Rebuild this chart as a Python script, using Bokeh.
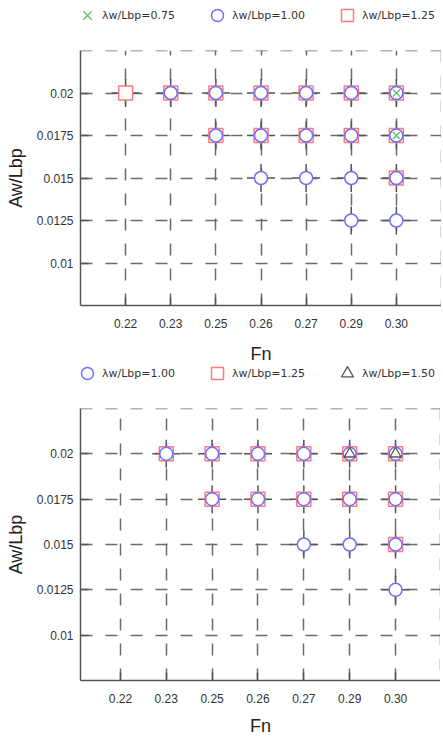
from bokeh.plotting import figure
from bokeh.models import Range1d, FixedTicker, Legend, LegendItem, Span
from bokeh.layouts import column
from bokeh.embed import file_html
from bokeh.resources import INLINE

# ---------------- data ----------------
fn_labels = ["0.22", "0.23", "0.25", "0.26", "0.27", "0.29", "0.30"]
aw_ticks = [0.01, 0.0125, 0.015, 0.0175, 0.02]
aw_labels = ["0.01", "0.0125", "0.015", "0.0175", "0.02"]
aw_range = (0.0075, 0.0225)

# top panel
top_075_fn = ["0.30", "0.30"]
top_075_aw = [0.02, 0.0175]
top_100_fn = ["0.23", "0.25", "0.26", "0.27", "0.29", "0.30",
              "0.25", "0.26", "0.27", "0.29", "0.30",
              "0.26", "0.27", "0.29", "0.30",
              "0.29", "0.30"]
top_100_aw = [0.02, 0.02, 0.02, 0.02, 0.02, 0.02,
              0.0175, 0.0175, 0.0175, 0.0175, 0.0175,
              0.015, 0.015, 0.015, 0.015,
              0.0125, 0.0125]
top_125_fn = ["0.22", "0.23", "0.25", "0.26", "0.27", "0.29", "0.30",
              "0.25", "0.26", "0.27", "0.29", "0.30",
              "0.30"]
top_125_aw = [0.02, 0.02, 0.02, 0.02, 0.02, 0.02, 0.02,
              0.0175, 0.0175, 0.0175, 0.0175, 0.0175,
              0.015]

# bottom panel
bot_100_fn = ["0.23", "0.25", "0.26", "0.27", "0.29", "0.30",
              "0.25", "0.26", "0.27", "0.29", "0.30",
              "0.27", "0.29", "0.30",
              "0.30"]
bot_100_aw = [0.02, 0.02, 0.02, 0.02, 0.02, 0.02,
              0.0175, 0.0175, 0.0175, 0.0175, 0.0175,
              0.015, 0.015, 0.015,
              0.0125]
bot_125_fn = ["0.23", "0.25", "0.26", "0.27", "0.29", "0.30",
              "0.25", "0.26", "0.27", "0.29", "0.30",
              "0.30"]
bot_125_aw = [0.02, 0.02, 0.02, 0.02, 0.02, 0.02,
              0.0175, 0.0175, 0.0175, 0.0175, 0.0175,
              0.015]
bot_150_fn = ["0.29", "0.30"]
bot_150_aw = [0.02, 0.02]

COL_075 = "#5cc05c"
COL_100 = "#6e6eff"
COL_125 = "#ff7a7a"
COL_150 = "#555555"
GRID = "#6a6a6a"
FONT = "Liberation Sans"


def idx(fns):
    return [fn_labels.index(f) for f in fns]


def make_fig(left, frame_w, frame_h, bot_b, series, lab_standoff, ax_standoff, xr):
    p = figure(width=left + frame_w, height=frame_h + bot_b,
               x_range=Range1d(*xr), y_range=Range1d(*aw_range),
               output_backend="svg", toolbar_location=None,
               min_border_left=left, min_border_right=0,
               min_border_top=0, min_border_bottom=bot_b)
    p.outline_line_color = None
    p.background_fill_color = "white"

    # axes
    p.xaxis.ticker = FixedTicker(ticks=list(range(len(fn_labels))))
    p.xaxis.major_label_overrides = {i: l for i, l in enumerate(fn_labels)}
    p.yaxis.ticker = FixedTicker(ticks=aw_ticks)
    p.yaxis.major_label_overrides = {t: l for t, l in zip(aw_ticks, aw_labels)}
    for ax in (p.xaxis, p.yaxis):
        ax.axis_line_color = "#555555"
        ax.axis_line_width = 1.5
        ax.major_tick_in = 8
        ax.major_tick_out = 0
        ax.major_tick_line_color = "#555555"
        ax.major_tick_line_width = 1.5
        ax.minor_tick_line_color = None
        ax.major_label_text_font = FONT
        ax.major_label_text_font_size = "12px"
        ax.major_label_text_color = "#333333"
        ax.axis_label_text_font = FONT
        ax.axis_label_text_font_size = "18px"
        ax.axis_label_text_font_style = "normal"
        ax.axis_label_text_color = "#222222"
    p.xaxis.axis_label = "Fn"
    p.yaxis.axis_label = "Aw/Lbp"
    p.xaxis.major_label_standoff = lab_standoff
    p.xaxis.axis_label_standoff = ax_standoff
    p.yaxis.major_label_standoff = 7
    p.yaxis.axis_label_standoff = 8

    # grids
    for g in (p.xgrid, p.ygrid):
        g.grid_line_color = GRID
        g.grid_line_width = 1.5
        g.grid_line_dash = "12 13"
    # dashed top / right border of the box
    p.add_layout(Span(location=aw_range[1], dimension="width", line_color=GRID,
                      line_width=1.5, line_dash="12 13"))
    p.add_layout(Span(location=xr[1], dimension="height", line_color=GRID,
                      line_width=1.5, line_dash="12 13"))

    # solid cross-hairs behind every tested point
    all_x, all_y = [], []
    for (fns, aws, *_rest) in series:
        for xx, yy in zip(idx(fns), aws):
            if (xx, yy) not in zip(all_x, all_y):
                all_x.append(xx)
                all_y.append(yy)
    p.scatter(all_x, all_y, marker="cross", size=28, line_color="#555555", line_width=1.5)

    for s in series:
        fns, aws, label, marker, size, color, lw, legend_pos = s
        p.scatter(idx(fns), aws, marker=marker, size=size, line_color=color,
                  line_width=lw, fill_color="white")
    return p


def make_legend_fig(left, frame_w, height, x_off, top_off, series):
    lf = figure(width=left + frame_w, height=height, output_backend="svg",
                toolbar_location=None, x_axis_type=None, y_axis_type=None,
                min_border=0, min_border_left=left,
                x_range=Range1d(-1, len(fn_labels)), y_range=Range1d(*aw_range))
    lf.outline_line_color = None
    lf.xgrid.visible = False
    lf.ygrid.visible = False
    order = []
    for s in series:
        fns, aws, label, marker, size, color, lw, legend_pos = s
        r = lf.scatter(idx(fns), aws, marker=marker, size=size, line_color=color,
                       line_width=lw, fill_color="white", visible=False)
        order.append((legend_pos, LegendItem(label=label, renderers=[r])))
    order.sort(key=lambda t: t[0])
    leg = Legend(items=[it for _, it in order], orientation="horizontal",
                 location=(x_off, height - top_off - 30),
                 glyph_width=30, glyph_height=30, label_standoff=0, spacing=27,
                 padding=0, margin=0, border_line_color=None,
                 background_fill_alpha=0,
                 label_text_font="DejaVu Sans", label_text_font_size="11px",
                 label_text_color="#333333")
    lf.add_layout(leg, "center")
    return lf


top_series = [
    (top_125_fn, top_125_aw, "λw/Lbp=1.25", "square", 14, COL_125, 1.5, 2),
    (top_100_fn, top_100_aw, "λw/Lbp=1.00", "circle", 13, COL_100, 1.5, 1),
    (top_075_fn, top_075_aw, "λw/Lbp=0.75", "x", 10, COL_075, 1.3, 0),
]
bot_series = [
    (bot_125_fn, bot_125_aw, "λw/Lbp=1.25", "square", 14, COL_125, 1.5, 1),
    (bot_100_fn, bot_100_aw, "λw/Lbp=1.00", "circle", 13, COL_100, 1.5, 0),
    (bot_150_fn, bot_150_aw, "λw/Lbp=1.50", "triangle", 11, COL_150, 1.3, 2),
]

l1 = make_legend_fig(80, 361, 50, -8, 0, top_series)
p1 = make_fig(80, 361, 258, 58, top_series, 13, 13, (-1, 7))
l2 = make_legend_fig(80, 360, 42, -8, -8, bot_series)
p2 = make_fig(80, 360, 275, 55, bot_series, 13, 10, (-0.87, 6.98))

layout = column(column(l1, p1, spacing=0), column(l2, p2, spacing=0), spacing=0)
open("out.html", "w").write(file_html(layout, INLINE))
